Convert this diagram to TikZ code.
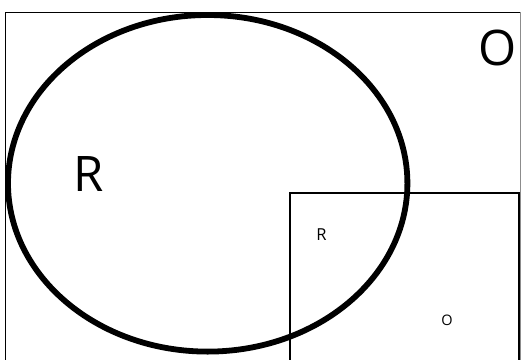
\documentclass[tikz,border=0pt]{standalone}
\usepackage{fontspec}
\setmainfont{Open Sans}
\begin{document}
\begin{tikzpicture}[x=1pt,y=-1pt,
  biglabel/.style={inner sep=0pt,font=\fontsize{49}{49}\selectfont},
  smalllabel/.style={inner sep=0pt,font=\fontsize{16.5}{16.5}\selectfont},
  setline/.style={draw=black,line width=5.8pt},
  boxline/.style={draw=black,line width=2pt}]
\useasboundingbox (0,0) rectangle (521,359);
\clip (0,0) rectangle (521,359);
% frame
\draw[line width=1pt,black] (5.5,370) -- (5.5,12.3) -- (520.5,12.3);
\draw[line width=1pt,black!45] (520.5,12.3) -- (520.5,370);
% box
\draw[boxline] (290,370) -- (290,193) -- (519,193) -- (519,370);
% ellipse
\draw[setline] (207.7,183.3) ellipse [x radius=199.7, y radius=168.3];
% labels
\node[biglabel] (O) at (497.5,47.8) {O};
\node[biglabel] (R) at (88.7,174.2) {R};
\node[smalllabel] (r) at (321.5,234.5) {R};
\node[smalllabel,font=\fontsize{14.5}{14.5}\selectfont] (o) at (447,320.3) {O};
\end{tikzpicture}
\end{document}
